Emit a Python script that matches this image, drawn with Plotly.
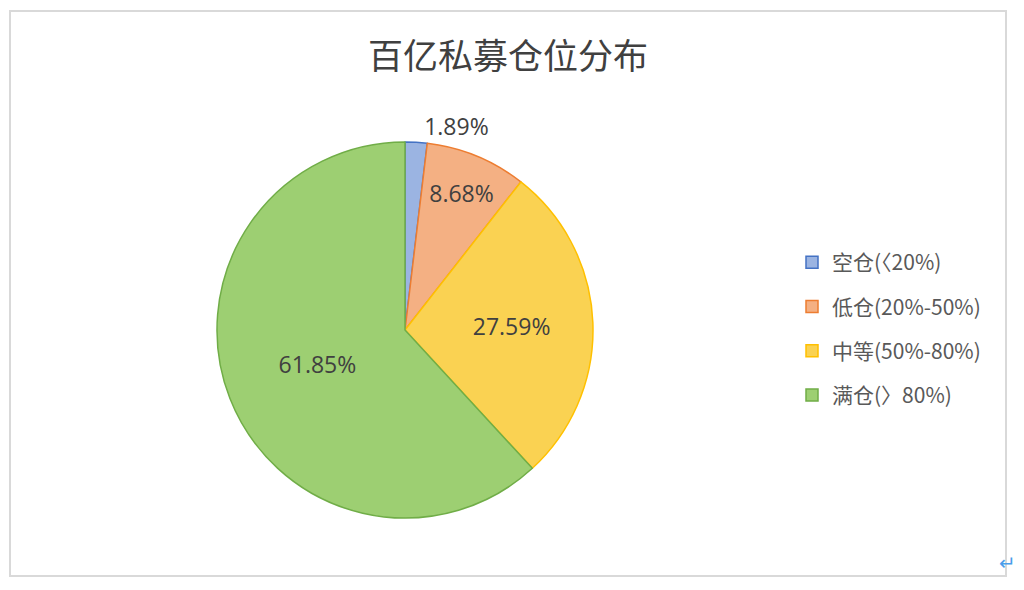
import plotly.graph_objects as go

# data
categories = ["空仓(〈20%)", "低仓(20%-50%)", "中等(50%-80%)", "满仓(〉80%)"]
shares = [1.89, 8.68, 27.59, 61.85]
label_text = ["1.89%", "8.68%", "27.59%", "61.85%"]

fill_colors = ["#9bb4e2", "#f4b083", "#fad252", "#9dcf72"]
edge_colors = ["#4472c4", "#ed7d31", "#ffc000", "#70ad47"]

W, H = 1024, 590
OX, OY = 8, 8  # the page body adds an 8px margin, pull things back by that much


def px(x):
    return (x - OX) / W


def py(y):
    return 1 - (y - OY) / H


cx, cy, r = 405, 330, 188

fig = go.Figure()

fig.add_trace(go.Pie(
    labels=categories,
    values=shares,
    text=label_text,
    texttemplate="%{text}",
    textposition=["outside", "inside", "inside", "inside"],
    insidetextorientation="horizontal",
    sort=False,
    direction="clockwise",
    rotation=0,
    marker=dict(colors=fill_colors, line=dict(color=edge_colors, width=1.5)),
    textfont=dict(size=23, color="#404040", family="Open Sans"),
    outsidetextfont=dict(size=23, color="#404040", family="Open Sans"),
    insidetextfont=dict(size=23, color="#404040", family="Open Sans"),
    hoverinfo="label+percent",
    domain=dict(x=[px(cx - r), px(cx + r)], y=[py(cy + r), py(cy - r)]),
    showlegend=False,
))

# legend entries, one group each so the rows can be spaced like the original
for i, name in enumerate(categories):
    fig.add_trace(go.Scatter(
        x=[None], y=[None], mode="markers", name=name,
        legendgroup=f"g{i}",
        marker=dict(symbol="square", size=12, color=fill_colors[i],
                    line=dict(color=edge_colors[i], width=1.5)),
        hoverinfo="skip",
    ))

fig.update_layout(
    width=W,
    height=H,
    margin=dict(l=0, r=0, t=0, b=0),
    paper_bgcolor="white",
    plot_bgcolor="white",
    xaxis=dict(visible=False),
    yaxis=dict(visible=False),
    font=dict(family="Noto Sans CJK SC, Noto Sans, sans-serif", color="#404040"),
    title=dict(text="百亿私募仓位分布", x=px(508), xanchor="center",
               y=py(57), yanchor="middle",
               font=dict(size=35, color="#404040", family="Noto Sans CJK SC")),
    legend=dict(x=px(792), xanchor="left", y=py(242), yanchor="top",
                font=dict(size=21, color="#595959", family="Noto Sans CJK SC"),
                tracegroupgap=14, bgcolor="rgba(0,0,0,0)"),
    shapes=[
        # chart frame
        dict(type="rect", xref="paper", yref="paper",
             x0=px(10), x1=px(1006), y0=py(576), y1=py(11),
             line=dict(color="#d9d9d9", width=2), fillcolor="rgba(0,0,0,0)"),
        # page edge on the right
        dict(type="line", xref="paper", yref="paper",
             x0=px(1018), x1=px(1018), y0=0, y1=1,
             line=dict(color="#555555", width=2)),
    ],
    annotations=[
        dict(text="↵", xref="paper", yref="paper", x=px(1018), y=py(578),
             xanchor="right", yanchor="bottom", showarrow=False,
             font=dict(size=20, color="#4a9eea")),
    ],
)

fig.write_html("out.html")
